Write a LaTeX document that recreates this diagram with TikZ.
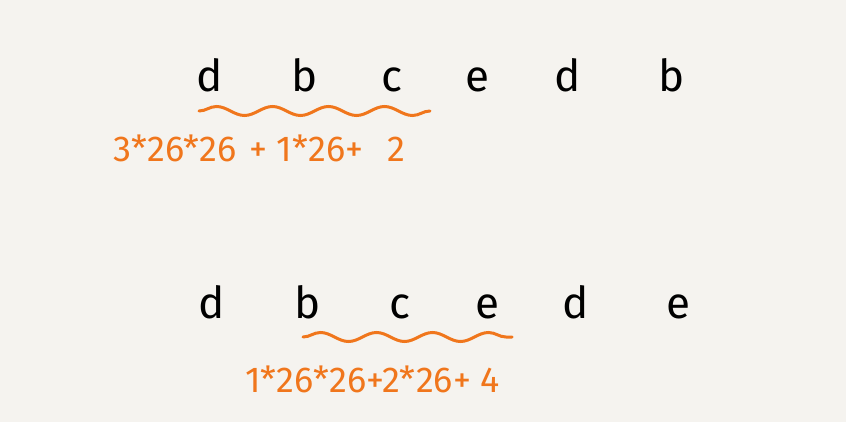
\documentclass[tikz,border=0pt]{standalone}
\usepackage{fontspec}
\setmainfont{Fira Sans}
\usetikzlibrary{decorations.pathmorphing}
\definecolor{paper}{RGB}{245,243,239}
\definecolor{marker}{RGB}{240,118,28}
\begin{document}
\begin{tikzpicture}[x=1pt,y=-1pt,
    letter/.style={anchor=base,font=\fontsize{44}{48}\selectfont,text=black},
    formula/.style={anchor=base west,inner sep=0pt,font=\fontsize{36}{40}\selectfont,text=marker},
    wave/.style={draw=marker,line width=3pt,line cap=round,
      decorate,decoration={snake,segment length=56pt,amplitude=4.5pt}}]
  \fill[paper] (0,0) rectangle (846,422);
  \useasboundingbox (0,0) rectangle (846,422);
  % first window
  \node[letter] (t1) at (210,92) {d};
  \node[letter] (t2) at (305,92) {b};
  \node[letter] (t3) at (392,92) {c};
  \node[letter] (t4) at (477,92) {e};
  \node[letter] (t5) at (568,92) {d};
  \node[letter] (t6) at (672,92) {b};
  \coordinate (w1a) at (199,111);
  \coordinate (w1b) at (430,111);
  \draw[wave] (w1a) -- (w1b);
  \node[formula] (f1) at (113,162) {3*26*26\hspace{3pt} + 1*26+\hspace{15pt} 2};
  % second window
  \node[letter] (b1) at (212,318) {d};
  \node[letter] (b2) at (308,318) {b};
  \node[letter] (b3) at (400,318) {c};
  \node[letter] (b4) at (487,318) {e};
  \node[letter] (b5) at (576,318) {d};
  \node[letter] (b6) at (678,318) {e};
  \coordinate (w2a) at (303,337);
  \coordinate (w2b) at (512,337);
  \draw[wave] (w2a) -- (w2b);
  \node[formula] (f2) at (245,392) {1*26*26+2*26+ 4};
\end{tikzpicture}
\end{document}
